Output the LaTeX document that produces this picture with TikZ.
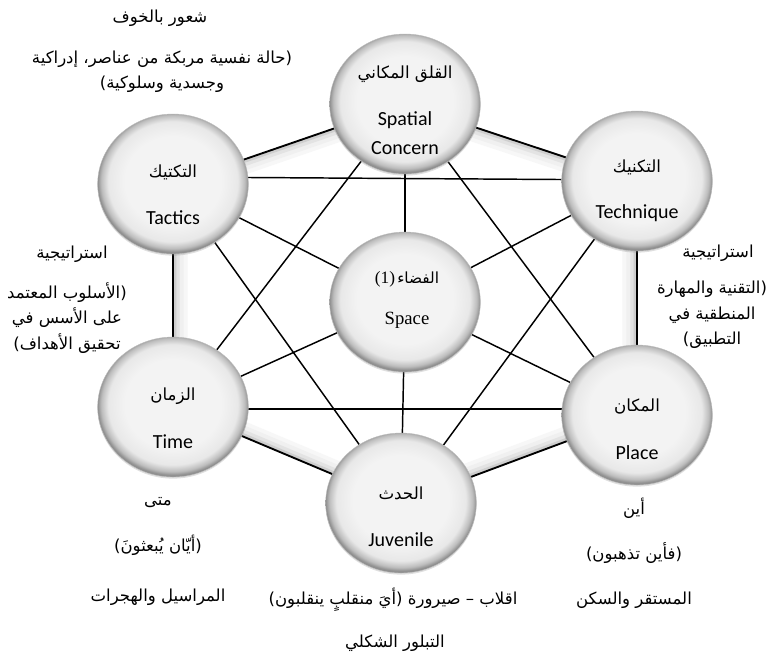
\documentclass[tikz,border=0pt]{standalone}
\usepackage{fontspec}
\setmainfont{Carlito}
\newfontfamily\arabicfont[Script=Arabic]{DejaVu Sans}
\newfontfamily\serifLS{Liberation Serif}
\TeXXeTstate=1
\usetikzlibrary{shapes.geometric,backgrounds,shadows}
\newcommand\AR[1]{{\arabicfont\beginR #1\endR}}
\definecolor{bubA}{HTML}{F3F3F3}
\definecolor{bubB}{HTML}{E8E8E8}
\definecolor{bubC}{HTML}{BDBDBD}
\definecolor{bubD}{HTML}{909090}
\pgfdeclareradialshading{bubbleshade}{\pgfpoint{0bp}{1.5bp}}{color(0bp)=(bubA); color(16bp)=(bubA); color(21.5bp)=(bubB); color(23.8bp)=(bubC); color(25bp)=(bubD); color(50bp)=(bubD)}
\begin{document}
\begin{tikzpicture}[x=0.75pt,y=-0.75pt,
  bubble/.style={ellipse, minimum width=113pt, minimum height=105pt, inner sep=0pt,
    shading=bubbleshade, draw=gray!50, line width=0.3pt,
    drop shadow={shadow xshift=0pt, shadow yshift=-1.2pt, opacity=0.25, fill=gray}},
  entext/.style={font=\fontsize{15}{20}\selectfont, inner sep=0pt, align=center},
  ctext/.style={font=\fontsize{12.5}{16}\selectfont, inner sep=0pt},
  artext/.style={font=\fontsize{12.4}{19}\selectfont, inner sep=0pt, align=center},
  conn/.style={line width=1.1pt, black},
  hexline/.style={line width=1.4pt, black}]
\useasboundingbox (0,0) rectangle (777,662);

% circles
\node[bubble] (sc) at (405,104) {};
\node[bubble] (tq) at (637,181) {};
\node[bubble] (pl) at (637,415) {};
\node[bubble] (jv) at (401,503) {};
\node[bubble] (tm) at (173,407) {};
\node[bubble] (tc) at (173,184) {};
\node[bubble] (sp) at (405,302) {};

% hexagon and connectors
\begin{scope}[on background layer]
  \fill[white] (0,0) rectangle (777,662);
  \begin{scope}
    \clip (sc.center) -- (tq.center) -- (pl.center) -- (jv.center) -- (tm.center) -- (tc.center) -- cycle;
    \draw[line width=22pt, gray!6]  (sc.center) -- (tq.center) -- (pl.center) -- (jv.center) -- (tm.center) -- (tc.center) -- cycle;
    \draw[line width=16pt, gray!12] (sc.center) -- (tq.center) -- (pl.center) -- (jv.center) -- (tm.center) -- (tc.center) -- cycle;
    \draw[line width=10pt, gray!22] (sc.center) -- (tq.center) -- (pl.center) -- (jv.center) -- (tm.center) -- (tc.center) -- cycle;
    \draw[line width=5pt, gray!38]  (sc.center) -- (tq.center) -- (pl.center) -- (jv.center) -- (tm.center) -- (tc.center) -- cycle;
  \end{scope}
  \draw[hexline, line join=round] (sc.center) -- (tq.center) -- (pl.center) -- (jv.center) -- (tm.center) -- (tc.center) -- cycle;
  % spokes
  \draw[conn] (sp) -- (sc);
  \draw[conn] (sp) -- (tq);
  \draw[conn] (sp) -- (pl);
  \draw[conn] (sp) -- (jv);
  \draw[conn] (sp) -- (tm);
  \draw[conn] (sp) -- (tc);
  % triangles
  \draw[conn] (sc) -- (pl);
  \draw[conn] ([yshift=4.5pt]pl.center) -- ([yshift=-1.5pt]tm.center);
  \draw[conn] (tm) -- (sc);
  \draw[conn] ([yshift=5.25pt]tc.center) -- ([yshift=0.75pt]tq.center);
  \draw[conn] (tq) -- (jv);
  \draw[conn] (jv) -- (tc);
\end{scope}

% texts in circles
\node[ctext] (scA) at (405,74) {\AR{القلق المكاني}};
\node[entext] (scE) at (405,133) {Spatial\\[2pt]Concern};
\node[ctext] (tcA) at (173,172) {\AR{التكتيك}};
\node[entext] (tcE) at (173,218) {Tactics};
\node[ctext] (tqA) at (637,167) {\AR{التكنيك}};
\node[entext] (tqE) at (637,213) {Technique};
\node[ctext] (tmA) at (173,396) {\AR{الزمان}};
\node[entext] (tmE) at (173,442) {Time};
\node[ctext] (plA) at (637,407) {\AR{المكان}};
\node[entext] (plE) at (637,453) {Place};
\node[ctext] (jvA) at (401,493) {\AR{الحدث}};
\node[entext] (jvE) at (401,540) {Juvenile};
\node[inner sep=0pt] (spA) at (407,279) {{\serifLS\fontsize{13}{15}\selectfont (1)}\,{\fontsize{11.5}{15}\selectfont\AR{الفضاء}}};
\node[inner sep=0pt, font=\serifLS\fontsize{14}{16}\selectfont] (spE) at (407,320) {Space};

% outer texts
\node[artext] (t1) at (160,18) {\AR{شعور بالخوف}};
\node[artext] (t2) at (162,72) {\AR{(حالة نفسية مربكة من عناصر، إدراكية}\\\AR{وجسدية وسلوكية)}};
\node[artext] (l1) at (72,254) {\AR{استراتيجية}};
\node[artext] (l2) at (67,318) {\AR{(الأسلوب المعتمد}\\\AR{على الأسس في}\\\AR{تحقيق الأهداف)}};
\node[artext] (r1) at (718,253) {\AR{استراتيجية}};
\node[artext] (r2) at (712,315) {\AR{(التقنية والمهارة}\\\AR{المنطقية في}\\\AR{التطبيق)}};
\node[artext] (b1) at (158,503) {\AR{متى}};
\node[artext] (b2) at (158,545) {\AR{(أيّان يُبعثونَ)}};
\node[artext] (b3) at (158,597) {\AR{المراسيل والهجرات}};
\node[artext] (c1) at (393,600) {\AR{اقلاب – صيرورة (أيَ منقلبٍ ينقلبون)}};
\node[artext] (c2) at (395,643) {\AR{التبلور الشكلي}};
\node[artext] (d1) at (634,508) {\AR{أين}};
\node[artext] (d2) at (634,553) {\AR{(فأين تذهبون)}};
\node[artext] (d3) at (634,600) {\AR{المستقر والسكن}};
\end{tikzpicture}
\end{document}
